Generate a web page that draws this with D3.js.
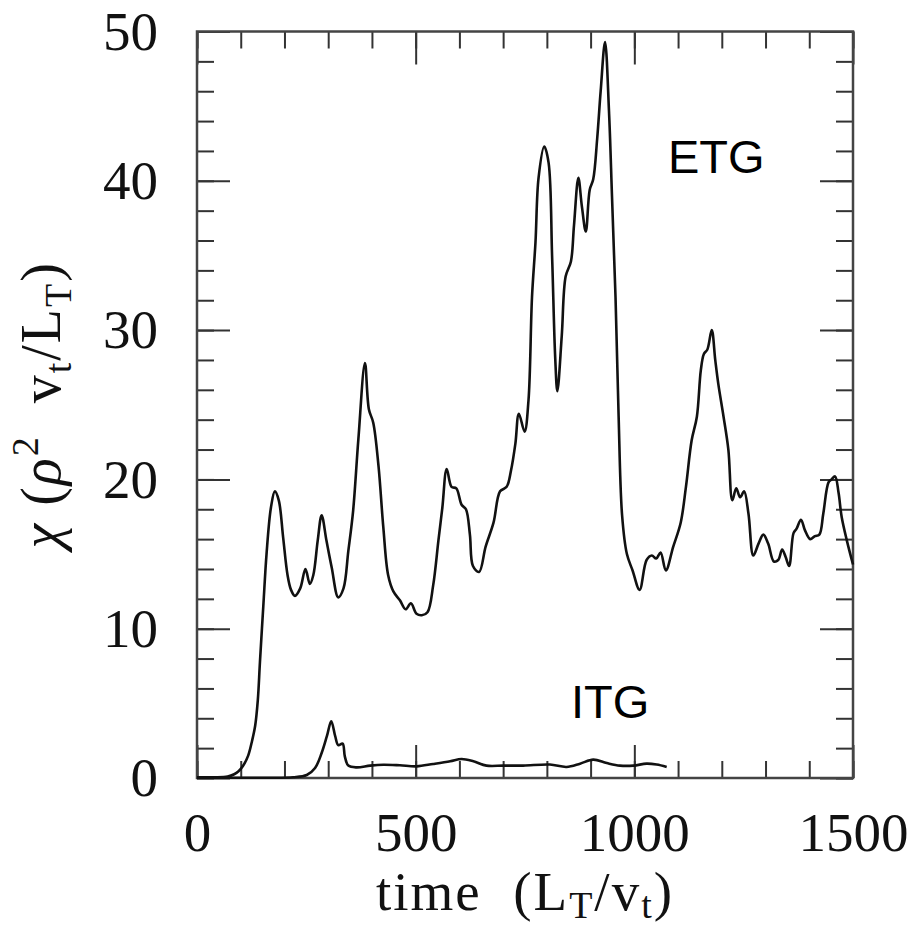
<!DOCTYPE html>
<html>
<head>
<meta charset="utf-8">
<script src="https://cdn.jsdelivr.net/npm/d3@7"></script>
<style>
  body { margin: 0; background: #fff; }
  svg { display: block; }
  .serif { font-family: "Liberation Serif", "Times New Roman", serif; fill: #111; }
  .sans { font-family: "Liberation Sans", Arial, sans-serif; fill: #000; }
</style>
</head>
<body>
<svg id="chart" width="919" height="926"></svg>
<script>
// ETG turbulence run: time and diffusivity
var etgTime = [0, 40, 70, 85, 95, 105, 117, 126, 133, 139, 144, 152, 159, 169, 178, 187, 197, 207, 215,
  224, 236, 248, 258, 266, 276, 285, 296, 308, 323, 335, 346, 357, 369, 384, 393, 403, 415, 426, 437,
  449, 464, 477, 489, 502, 514, 527, 540, 552, 561, 571, 582, 593, 605, 615, 624, 631, 645, 660, 678,
  693, 708, 718, 728, 736, 749, 758, 766, 774, 781, 794, 804, 812, 819, 824, 834, 843, 855, 862, 872,
  880, 889, 898, 906, 915, 923, 933, 942, 949, 957, 964, 972, 983, 996, 1012, 1028, 1040, 1050, 1060,
  1072, 1089, 1106, 1118, 1131, 1143, 1152, 1159, 1167, 1177, 1185, 1192, 1204, 1215, 1224, 1233,
  1242, 1251, 1261, 1272, 1284, 1295, 1306, 1319, 1329, 1338, 1346, 1354, 1364, 1371, 1381, 1390,
  1402, 1413, 1423, 1432, 1444, 1451, 1459, 1467, 1474, 1486, 1500];
var etgChi = [0.05, 0.05, 0.1, 0.25, 0.45, 0.8, 1.5, 2.5, 3.5, 5.2, 7.8, 11.7, 15.0, 18.1, 19.2, 18.6,
  16.1, 13.6, 12.6, 12.2, 12.7, 14.0, 13.0, 13.6, 15.9, 17.6, 15.9, 14.1, 12.1, 12.7, 15.2, 17.9, 22.7,
  27.8, 24.7, 23.8, 20.9, 16.8, 13.6, 12.5, 11.9, 11.3, 11.7, 11.0, 10.9, 11.1, 12.9, 15.9, 18.1, 20.7,
  19.5, 19.4, 18.3, 18.0, 16.3, 14.2, 13.8, 15.5, 17.1, 19.2, 19.5, 20.6, 22.4, 24.4, 23.2, 25.3, 32.2,
  35.9, 40.2, 42.3, 41.2, 34.9, 28.2, 25.9, 29.6, 33.6, 34.6, 37.0, 40.2, 38.3, 36.6, 39.4, 40.1, 42.8,
  46.0, 49.3, 44.7, 38.9, 32.2, 24.3, 17.6, 15.0, 13.9, 12.6, 14.6, 14.9, 14.7, 15.1, 13.9, 15.5, 17.1,
  19.5, 22.6, 24.2, 27.3, 28.4, 28.7, 30.0, 28.0, 26.4, 24.2, 22.0, 18.6, 19.4, 18.8, 19.2, 17.7, 14.9,
  15.7, 16.3, 15.7, 14.5, 14.6, 15.3, 14.8, 14.2, 16.4, 16.7, 17.3, 16.6, 16.0, 16.2, 16.3, 17.7, 19.8,
  20.0, 20.2, 19.1, 17.5, 15.9, 14.3];

// ITG run, shorter
var itgTime = [0, 150, 220, 251, 270, 285, 297, 307, 316, 323, 333, 338, 346, 365, 396, 426, 464, 502,
  540, 579, 605, 632, 662, 700, 746, 807, 845, 876, 906, 937, 967, 998, 1028, 1051, 1074];
var itgChi = [0.02, 0.02, 0.05, 0.2, 0.67, 1.67, 2.8, 3.8, 2.8, 2.2, 2.3, 1.45, 0.83, 0.71, 0.83, 0.89,
  0.85, 0.78, 0.94, 1.12, 1.27, 1.12, 0.83, 0.83, 0.83, 0.9, 0.74, 0.96, 1.23, 1.0, 0.83, 0.83, 0.96,
  0.9, 0.74];

// tick values
var xMajor = [0, 500, 1000, 1500];
var xMinor = d3.range(0, 1501, 100);
var yMajor = [0, 10, 20, 30, 40, 50];
var yMinor = d3.range(0, 51, 2);

// curve labels: [text, time, chi]
var curveLabels = [["ETG", 1077, 40.5], ["ITG", 855, 4.0]];

var svg = d3.select("#chart");
// note: "top" is a reserved window global, so use plot* names
var plotLeft = 197, plotRight = 853, plotTop = 31.5, plotBottom = 778;

var x = d3.scaleLinear().domain([0, 1500]).range([plotLeft, plotRight]);
var y = d3.scaleLinear().domain([0, 50]).range([plotBottom, plotTop]);

// ticks on all four sides, pointing inward
function tickLayer(axis, tx, ty) {
  var g = svg.append("g").attr("transform", "translate(" + tx + "," + ty + ")").call(axis);
  g.select(".domain").remove();
  g.selectAll(".tick line").attr("stroke", "#333").attr("stroke-width", 2);
  return g;
}

tickLayer(d3.axisBottom(x).tickValues(xMinor).tickSize(-17).tickFormat(""), 0, plotBottom);
tickLayer(d3.axisTop(x).tickValues(xMinor).tickSize(-17).tickFormat(""), 0, plotTop);
tickLayer(d3.axisLeft(y).tickValues(yMinor).tickSize(-17).tickFormat(""), plotLeft, 0);
tickLayer(d3.axisRight(y).tickValues(yMinor).tickSize(-17).tickFormat(""), plotRight, 0);

var xAx = tickLayer(d3.axisBottom(x).tickValues(xMajor).tickSize(-33).tickPadding(34).tickFormat(d3.format("d")), 0, plotBottom);
tickLayer(d3.axisTop(x).tickValues(xMajor).tickSize(-33).tickFormat(""), 0, plotTop);
var yAx = tickLayer(d3.axisLeft(y).tickValues(yMajor).tickSize(-33).tickPadding(39).tickFormat(d3.format("d")), plotLeft, 0);
tickLayer(d3.axisRight(y).tickValues(yMajor).tickSize(-33).tickFormat(""), plotRight, 0);

[xAx, yAx].forEach(function(g) {
  g.attr("font-family", null).attr("font-size", null);
  g.selectAll("text").attr("class", "serif").style("font-size", "55px").attr("fill", "#111");
});

// frame
svg.append("rect")
  .attr("x", plotLeft).attr("y", plotTop)
  .attr("width", plotRight - plotLeft).attr("height", plotBottom - plotTop)
  .attr("fill", "none").attr("stroke", "#444").attr("stroke-width", 2.5);

// the two traces
var line = d3.line()
  .x(function(d) { return x(d[0]); })
  .y(function(d) { return y(d[1]); })
  .curve(d3.curveCatmullRom.alpha(0.5));

var etg = d3.zip(etgTime, etgChi);
var itg = d3.zip(itgTime, itgChi);

[etg, itg].forEach(function(series) {
  svg.append("path")
    .datum(series)
    .attr("d", line)
    .attr("fill", "none")
    .attr("stroke", "#111")
    .attr("stroke-width", 2.6)
    .attr("stroke-linejoin", "round");
});

curveLabels.forEach(function(l) {
  svg.append("text")
    .attr("class", "sans")
    .attr("x", x(l[1]))
    .attr("y", y(l[2]))
    .style("font-size", "47px")
    .text(l[0]);
});

// axis titles
var xt = svg.append("text")
  .attr("class", "serif")
  .attr("x", (plotLeft + plotRight) / 2)
  .attr("y", 910)
  .attr("text-anchor", "middle")
  .style("font-size", "55px")
  .style("letter-spacing", "2px");
xt.append("tspan").text("time  (L").style("white-space", "pre");
xt.append("tspan").attr("dy", 8).style("font-size", "38px").text("T");
xt.append("tspan").attr("dy", -8).text("/v");
xt.append("tspan").attr("dy", 8).style("font-size", "38px").text("t");
xt.append("tspan").attr("dy", -8).text(")");

var yt = svg.append("text")
  .attr("class", "serif")
  .attr("transform", "translate(60," + (plotTop + plotBottom) / 2 + ") rotate(-90)")
  .attr("text-anchor", "middle")
  .style("font-size", "56px")
  .style("letter-spacing", "2px");
yt.append("tspan").style("font-style", "italic").text("\u03c7");
yt.append("tspan").text(" (");
yt.append("tspan").style("font-style", "italic").text("\u03c1");
yt.append("tspan").attr("dy", -22).style("font-size", "38px").text("2");
yt.append("tspan").attr("dy", 22).text("  v").style("white-space", "pre");
yt.append("tspan").attr("dy", 11).style("font-size", "38px").text("t");
yt.append("tspan").attr("dy", -11).text("/L");
yt.append("tspan").attr("dy", 11).style("font-size", "38px").text("T");
yt.append("tspan").attr("dy", -11).text(")");
</script>
</body>
</html>
